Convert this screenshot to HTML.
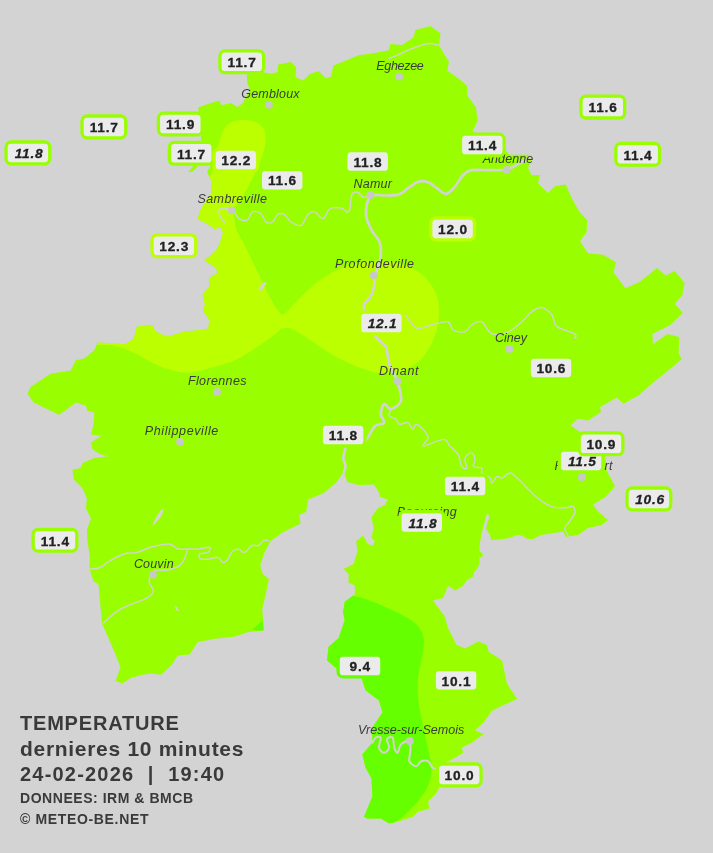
<!DOCTYPE html><html><head><meta charset="utf-8"><title>Temperature</title><style>
html,body{margin:0;padding:0}
body{width:713px;height:853px;background:#d3d3d3;position:relative;overflow:hidden;font-family:"Liberation Sans",sans-serif}
.c{position:absolute;font-style:italic;font-size:12.5px;color:#3c3c3c;white-space:nowrap;line-height:14px}
.l{position:absolute;box-sizing:border-box;width:46px;height:24px;border:3px solid #99ff00;border-radius:6px;background:#ebebeb;color:#222;font-weight:bold;font-size:14px;line-height:18px;text-align:center;transform:translate(-50%,-50%)}
.l.i{font-style:italic}
.t{position:absolute;left:20px;color:#3a3a3a;font-weight:bold;white-space:nowrap}
.t1{font-size:20px;letter-spacing:.8px;line-height:20px}
.t2{font-size:14px;letter-spacing:.54px;line-height:14px}

</style></head><body>
<svg width="713" height="853" viewBox="0 0 713 853" style="position:absolute;left:0;top:0">
<defs><clipPath id="prov"><polygon points="198.5,111 198.4,107.3 211,103 219.4,100.5 221.5,105.2 231,103 237.3,107.3 242.6,103 250,90.5 247.2,82 246.8,74.7 264.7,72.5 271,73.8 277.6,72 278.3,64.5 291,62 296.2,67.4 295.5,77 303,80.5 309.6,74 318.6,71 325.9,78.3 331.3,76.5 333.2,65.5 342.3,61.9 358.5,55.3 372,53.6 388.8,50.2 390.4,44 402,45 412,38.4 413.7,36.8 415.4,30.1 430.5,26 440.6,33.5 439,45.3 444,53.7 449,62 447.3,70.5 459,79 467,85.7 467.5,95.8 476,107.5 477.6,121 472.6,131 482,141 498,148 504.6,149.6 509.6,154.7 528,154.7 533,156.4 528,168 531.5,175 540,175 538,183.3 546.7,191.7 547.2,193.4 555.3,186 565.7,184.5 571.7,198 579.2,211.4 587.2,220.3 586.6,232.3 580,241.2 588,253.2 603,254.7 616,262.2 613.5,272.6 625.5,288.2 640.4,281.6 656.9,268.1 665.8,275.6 674.8,271.1 684.6,283.1 682.3,295 674.8,304 682.8,313 670.3,324.9 652.4,333.9 653,344.3 667.3,333.9 679.2,336.9 678.7,353.3 681.7,359.3 667.3,371.2 652,383.5 638.7,395.3 623.5,403.7 616.8,397.6 600,407 601,412 588,420.5 578,418.8 570.6,425.6 583,434 600,445 605,454 606.7,471 615,486 606.7,496 593,504.7 598,511.4 608,520 601.6,525 588,528 578,535 566,536.7 563,531.6 541,535 532.5,539.3 527.4,538.7 522.2,535.8 517,535.1 509.3,538 501.6,539.3 491.3,540 490,535.1 486.1,528.7 486.7,524.8 489.3,517.7 488,513.2 486.7,514.5 484.2,523.5 481.6,533.8 479.7,544.2 479.4,550.6 482.9,554.5 482.2,557 479.4,557.7 479.7,563.5 477.1,568.7 473.9,572.5 473.2,576.4 466.8,580.3 462.9,586.1 455.2,590.6 450,586.7 448,586 443,598 433,600.5 444.8,616.4 448,628 456.6,645 465,648.4 478.5,641.6 487,645 488.6,651.7 502,660.2 507,683.8 517.2,699 502,705.7 492,710.7 483.5,722.5 475,730.2 483.5,734.3 471.7,742.7 461.6,747.7 463.3,752.8 455,757.8 444.8,763 442,775 439.7,786.5 436.4,793.2 428,801.6 429.6,808.4 417.8,811.7 412.8,816.8 397.6,821.8 389.2,823.5 380.8,818.5 367.3,818.5 364,816.8 372.4,796.6 371.4,778 365.7,768 362.3,754.5 372.4,742.7 372.4,727.5 382.5,712.4 379,700.6 365.7,690.5 360.6,675.4 340.4,672 327,660.2 328.6,646.7 338.7,638 344.8,620 343,611.9 344.8,601.8 354.9,594.2 354.9,585.4 348.6,582.8 348.6,574 343.5,569 353.6,563.9 357.4,551.3 356.1,541.2 363.2,535.6 367.5,543.7 372.5,545.7 375.1,541.2 371.3,537.4 373.8,528.6 371.3,517.2 377.6,508.4 385.2,504.6 387.7,499.5 380.1,497 378.9,492 373.8,484.4 358.7,485.1 347.3,481.9 344,471.8 335.9,483.1 323.3,493.2 308.2,499.5 306.1,512.1 299.3,514.7 300.6,523.5 282.9,532.3 270.3,541.2 264,553.8 260.2,565.2 262.7,574 269,579 265.2,596.7 262.2,609.3 263.2,620 263.7,630.3 248.6,632 235,636.4 214.9,638.7 198,642 189.6,654.5 177.8,655.6 171,665.7 161,674.7 151,673.4 142.5,674.7 130.7,678 122.3,683.5 115.6,680.8 120.6,667.3 113.9,650.5 102,623.6 100,601 98.5,584.4 93.5,581 89.4,569 90,557.4 87.4,540.6 86.9,530 91,518.5 85.9,508.4 86.9,498.3 82.5,488.2 74,479.8 72.4,469.7 80.8,468 82.5,463 94.3,458 107.7,456.3 101,454.6 92.6,449.5 91,442.8 101,436 91,434.4 93.6,424.3 94.3,412.5 87.5,410.8 85.9,405.8 75.8,402.4 67.3,409 59,414.8 47,409 33.7,402.4 27.6,394 30.3,387.2 40.4,380.5 50.5,373.8 70.7,370.4 75.8,360.3 84.2,358.6 94.3,350.2 97.6,342.8 110,343 125.3,344.5 133.7,338.4 137,326.7 152.2,325 155.6,331.7 167.3,336.8 184.2,331.7 201,330 208.4,328.4 209.4,320 202.7,309.8 205,304.8 202.7,294.7 209.4,286.3 209.4,277.8 217.8,272.8 216,267.7 204.4,260.3 214.5,252.6 219.5,244.2 223,232.4 221,227.3 214.5,229 207.7,224 197.6,219 201,208.8 211,193.7 211,180.2 207,171.8 211,165 207,160 203,150 201,140 200,125 198,112"/><polygon points="188,172 195,164 198,166 192,172"/></clipPath></defs>
<g clip-path="url(#prov)"><rect width="713" height="853" fill="#99ff00"/>
<path d="M205.0,185.0 C206.3,182.6 211.4,174.9 213.1,170.4 C214.8,165.9 214.1,162.7 215.2,157.8 C216.2,152.9 217.8,145.9 219.4,141.0 C221.0,136.1 222.6,131.6 224.7,128.4 C226.8,125.2 229.0,123.4 232.0,122.0 C235.0,120.6 238.7,120.0 242.6,120.0 C246.5,120.0 251.7,120.6 255.2,122.0 C258.7,123.4 261.9,125.6 263.6,128.4 C265.4,131.2 265.7,135.1 265.7,138.9 C265.7,142.8 265.0,146.6 263.6,151.5 C262.2,156.4 259.8,162.7 257.3,168.3 C254.9,173.9 251.7,179.9 248.9,185.2 C246.1,190.5 243.3,195.9 240.5,200.0 C237.7,204.1 233.7,208.3 232.3,210.0 L236.5,230.0 C238.2,233.2 242.8,241.7 246.5,249.0 C250.2,256.3 254.0,264.8 258.4,273.8 C262.8,282.8 269.1,296.1 273.0,303.0 C276.9,309.9 280.5,313.0 282.0,315.0 L286.0,312.5 C289.3,309.1 299.5,297.9 305.8,292.0 C312.1,286.1 317.3,281.6 324.0,277.4 C330.7,273.1 338.0,269.2 345.9,266.5 C353.8,263.8 362.9,261.6 371.4,261.0 C379.9,260.4 389.1,261.0 397.0,262.8 C404.9,264.6 412.7,267.7 418.8,272.0 C424.9,276.3 430.0,282.6 433.4,288.4 C436.8,294.2 438.3,299.9 438.9,306.6 C439.5,313.3 438.5,321.8 437.0,328.5 C435.5,335.2 432.8,341.2 429.8,346.7 C426.8,352.2 423.1,357.4 418.8,361.3 C414.5,365.2 408.4,368.4 404.2,370.4 C399.9,372.3 398.2,372.7 393.3,373.0 C388.4,373.3 381.7,373.5 375.0,372.2 C368.3,370.9 360.5,368.0 353.2,365.0 C345.9,362.0 338.6,358.3 331.3,354.0 C324.0,349.7 315.5,343.3 309.4,339.4 C303.3,335.4 298.4,332.3 294.8,330.3 C291.2,328.3 289.1,328.0 288.0,327.5 L281.0,328.5 C279.7,329.7 277.4,332.5 273.0,335.8 C268.6,339.1 260.8,344.6 254.7,348.5 C248.6,352.4 243.2,356.4 236.5,359.5 C229.8,362.6 222.6,364.6 214.6,366.8 C206.6,369.0 196.2,372.3 188.4,372.7 C180.6,373.1 174.3,370.8 168.0,369.0 C161.7,367.2 155.5,364.4 150.5,362.0 C145.5,359.6 143.7,357.3 137.8,354.6 C132.0,351.9 121.7,347.4 115.4,345.8 C109.1,344.2 103.6,345.4 100.0,345.0 C96.4,344.6 95.0,343.7 94.0,343.4 L90,330 L120,305 L190,305 L190,200 Z" fill="#bbff00"/>
<path d="M330,596 L353.9,596 C358,597 362,598 367,599.5 C374,602 381,605 387.5,608 C395,611 401,614 407.7,618 C413,621 417,624 419.5,628 C422,632 424,636 424,641.6
 C424,648 422,655 421,661.8 C419.5,669 418,676 417.8,683.8 C417.5,692 418,700 419.5,707.3 C421,718 424,730 426.3,741 C428,749 430,757 431.3,764.6 C432,770 431.5,776 429.6,781.4 C427,789 423,795 417.8,801.6 C412,808 407,813 401,818.5 L392.6,823.5 L380,830 L350,830 L350,780 L360,700 L320,680 Z" fill="#66ff00"/>
<polygon points="252,630 263,620 264,631" fill="#66ff00"/>
</g>
<g fill="none" stroke="#d3d3d3" stroke-linejoin="round" stroke-linecap="round">
<path d="M532.0,156.7 C530.0,157.8 524.2,160.9 520.0,163.0 C515.8,165.1 511.5,168.3 506.8,169.5 C502.1,170.7 497.5,170.1 491.6,170.2 C485.7,170.3 476.2,169.3 471.4,170.2 C466.6,171.0 465.8,172.5 463.0,175.3 C460.2,178.1 457.4,183.9 454.6,187.0 C451.8,190.1 448.8,193.5 446.0,193.8 C443.2,194.1 440.8,190.7 437.7,188.7 C434.6,186.7 431.0,183.1 427.6,182.0 C424.2,180.9 420.9,180.9 417.5,182.0 C414.1,183.1 410.5,186.6 407.4,188.7 C404.3,190.8 402.4,193.3 399.0,194.4 C395.6,195.5 391.7,195.3 387.2,195.5 C382.7,195.7 375.4,194.1 372.0,195.5 C368.6,196.9 367.9,200.3 367.0,203.9 C366.1,207.5 365.6,212.8 366.4,217.3 C367.2,221.8 369.8,226.6 372.0,230.8 C374.2,235.0 378.4,238.1 379.8,242.6 C381.2,247.1 381.2,252.4 380.5,257.7 C379.8,263.0 376.6,269.6 375.5,274.6 C374.4,279.7 374.8,284.1 373.8,288.0 C372.8,291.9 371.4,295.2 369.7,298.0 C368.0,300.8 364.1,302.1 363.7,304.9 C363.2,307.7 365.6,311.1 367.0,315.0 C368.4,318.9 370.3,324.1 372.0,328.0 C373.7,331.9 374.7,335.5 377.0,338.6 C379.3,341.7 383.9,342.6 385.9,346.8 C387.9,351.0 387.2,357.8 389.2,363.7 C391.1,369.6 395.6,376.0 397.6,382.2 C399.6,388.4 402.1,396.2 401.0,400.7 C399.9,405.2 393.8,408.4 391.0,409.0 C388.2,409.6 385.9,403.1 384.2,404.0 C382.5,404.9 380.8,411.1 380.8,414.2 C380.8,417.3 385.2,420.6 384.2,422.6 C383.2,424.6 377.5,423.9 375.0,426.0 C372.5,428.1 371.2,432.3 369.4,435.0 C367.6,437.7 366.4,440.6 364.0,442.0 C361.6,443.4 357.8,443.0 355.0,443.5 C352.2,444.0 348.7,443.9 347.0,445.0 C345.3,446.1 345.6,447.8 345.0,450.0 C344.4,452.2 343.2,455.6 343.3,458.3 C343.4,461.0 345.5,463.8 345.6,466.0 C345.7,468.2 344.3,470.8 344.0,471.8" stroke-width="2.7"/>
<path d="M372.4,742.7 C373.0,741.9 374.4,738.5 375.8,737.6 C377.2,736.8 380.3,735.9 380.8,737.6 C381.3,739.3 378.4,745.2 379.0,747.7 C379.6,750.2 382.5,752.8 384.2,752.8 C385.9,752.8 388.8,750.0 389.2,747.7 C389.6,745.5 386.3,741.0 386.9,739.3 C387.5,737.6 391.4,736.2 392.6,737.6 C393.8,739.0 393.5,745.2 394.3,747.7 C395.1,750.2 396.5,753.3 397.6,752.8 C398.7,752.2 399.0,746.4 401.0,744.4 C403.0,742.4 407.8,739.9 409.4,741.0 C411.0,742.1 410.4,747.6 410.4,751.0 C410.4,754.4 408.4,758.7 409.4,761.2 C410.4,763.8 414.2,766.3 416.2,766.3 C418.2,766.3 419.2,762.1 421.2,761.2 C423.2,760.4 426.0,760.1 428.0,761.2 C430.0,762.3 431.1,766.6 433.0,768.0 C434.9,769.4 438.6,769.3 439.7,769.6" stroke-width="2"/>
<path d="M225.5,223.6 C224.5,222.2 220.5,217.5 219.7,215.0 C218.8,212.5 218.3,209.3 220.4,208.5 C222.5,207.7 228.9,208.3 232.0,210.0 C235.1,211.7 236.4,216.9 239.0,218.6 C241.6,220.3 245.1,221.3 247.3,220.2 C249.5,219.1 250.2,212.9 252.4,211.8 C254.7,210.7 258.6,211.8 260.8,213.5 C263.1,215.2 263.9,220.6 265.9,222.0 C267.9,223.4 270.7,223.2 272.6,222.0 C274.6,220.8 275.6,215.8 277.6,214.5 C279.6,213.2 282.2,213.2 284.4,214.5 C286.6,215.8 288.2,220.2 291.0,222.0 C293.8,223.8 298.4,226.6 301.2,225.3 C304.0,224.1 305.8,216.8 308.0,214.5 C310.2,212.2 312.2,211.1 314.7,211.8 C317.2,212.5 320.5,219.1 323.0,218.6 C325.5,218.1 326.9,210.8 329.8,209.0 C332.8,207.2 337.8,207.5 340.7,208.0 C343.6,208.5 345.8,211.8 347.3,212.0 C348.9,212.2 349.4,211.0 350.0,209.0 C350.6,207.0 350.4,202.6 350.8,200.0 C351.2,197.4 351.4,194.6 352.6,193.3 C353.8,192.1 356.2,191.8 358.0,192.5 C359.8,193.2 361.3,196.8 363.3,197.3 C365.3,197.8 368.9,195.8 370.0,195.5" stroke-width="1.4"/>
<path d="M391.0,409.0 C390.7,410.1 388.4,414.2 389.2,415.9 C390.0,417.6 394.3,417.8 396.0,419.2 C397.7,420.6 397.4,423.7 399.3,424.3 C401.2,424.9 405.4,421.8 407.7,422.6 C409.9,423.4 411.4,429.0 412.8,429.3 C414.2,429.6 414.3,424.3 416.0,424.3 C417.7,424.3 420.9,427.1 422.9,429.3 C424.9,431.5 428.0,434.9 428.0,437.7 C428.0,440.5 422.1,445.1 422.9,446.0 C423.7,446.9 429.4,443.9 433.0,442.8 C436.6,441.7 442.0,438.9 444.8,439.4 C447.6,439.9 447.6,443.5 449.8,446.0 C452.0,448.5 456.2,451.2 458.2,454.6 C460.2,458.0 460.2,464.2 461.6,466.4 C463.0,468.6 466.1,469.4 466.7,468.0 C467.3,466.6 464.2,460.5 465.0,458.0 C465.8,455.5 470.0,452.6 471.7,452.9 C473.4,453.2 474.7,457.4 475.0,459.6 C475.3,461.9 472.3,465.0 473.4,466.4 C474.5,467.8 480.4,466.9 481.8,468.0 C483.2,469.1 480.4,471.3 481.8,473.0 C483.2,474.7 488.5,476.3 490.2,478.0 C491.9,479.7 490.9,483.2 492.0,483.0 C493.1,482.8 495.3,477.3 497.0,476.5 C498.7,475.7 499.8,478.6 502.0,478.0 C504.2,477.4 507.6,472.7 510.4,473.0 C513.2,473.3 515.8,477.0 518.9,479.8 C522.0,482.6 525.9,487.0 529.0,490.0 C532.1,493.0 533.9,495.3 537.6,498.0 C541.3,500.7 546.5,504.7 551.0,506.4 C555.5,508.1 560.9,508.0 564.6,508.0 C568.3,508.0 571.3,505.6 573.0,506.4 C574.7,507.2 575.3,510.5 574.7,513.0 C574.1,515.5 571.3,519.0 569.6,521.5 C567.9,524.0 564.9,526.0 564.6,528.3 C564.3,530.5 567.4,533.9 568.0,535.0" stroke-width="1.4"/>
<path d="M367.0,315.0 C372.9,315.0 395.4,314.2 402.4,315.0 C409.4,315.8 406.5,317.8 409.0,320.0 C411.5,322.2 413.8,327.7 417.5,328.5 C421.2,329.3 425.9,326.1 431.0,325.0 C436.1,323.9 444.1,320.9 447.8,321.7 C451.5,322.5 450.2,328.3 453.0,330.0 C455.8,331.7 461.6,332.6 464.7,331.8 C467.8,331.0 468.6,326.7 471.4,325.0 C474.2,323.3 478.1,320.3 481.5,321.7 C484.9,323.1 487.1,331.8 491.6,333.5 C496.1,335.2 503.3,333.8 508.4,331.8 C513.5,329.8 518.1,325.1 522.0,321.7 C525.9,318.3 528.7,314.0 532.0,311.6 C535.3,309.2 538.7,307.0 542.0,307.6 C545.3,308.2 549.5,311.9 552.0,315.0 C554.5,318.1 553.0,323.2 556.8,326.4 C560.6,329.5 571.7,331.9 574.7,333.9 C577.7,335.9 574.7,337.6 574.7,338.4" stroke-width="1.4"/>
<path d="M89.4,569.0 C91.2,568.8 96.6,568.9 100.0,567.5 C103.4,566.1 106.0,563.0 110.0,560.8 C114.0,558.5 119.3,555.4 123.8,554.0 C128.3,552.6 132.5,553.5 137.0,552.4 C141.5,551.3 145.4,548.7 150.7,547.3 C156.0,545.9 164.5,543.7 169.0,544.0 C173.5,544.3 174.5,548.2 177.6,549.0 C180.7,549.8 184.3,549.0 187.7,549.0 C191.1,549.0 194.3,549.3 198.0,549.0 C201.7,548.7 207.9,546.7 209.6,547.3 C211.3,547.9 209.7,551.3 208.0,552.4 C206.3,553.5 200.7,552.9 199.5,554.0 C198.3,555.1 199.3,558.2 201.0,559.0 C202.7,559.8 206.8,559.3 209.6,559.0 C212.4,558.7 215.8,556.8 218.0,557.4 C220.2,558.0 221.3,562.2 223.0,562.5 C224.7,562.8 226.6,560.7 228.0,559.0 C229.4,557.3 229.8,554.1 231.5,552.4 C233.2,550.7 235.8,549.0 238.0,549.0 C240.2,549.0 242.7,553.0 245.0,552.4 C247.3,551.8 249.5,546.7 251.7,545.6 C253.9,544.5 256.4,546.4 258.4,545.6 C260.4,544.8 261.8,541.4 263.5,540.6 C265.2,539.8 267.7,540.6 268.5,540.6" stroke-width="1.4"/>
<path d="M187.7,549.0 C187.1,550.7 185.8,556.2 184.4,559.0 C183.0,561.8 182.1,564.1 179.3,565.9 C176.5,567.7 171.7,569.1 167.5,570.0 C163.3,570.9 157.1,569.2 154.0,571.0 C150.9,572.8 149.1,577.7 149.0,581.0 C148.9,584.3 153.7,588.2 153.4,591.0 C153.1,593.8 151.1,595.5 147.3,597.8 C143.5,600.1 135.6,602.4 130.5,604.6 C125.5,606.9 121.5,608.2 117.0,611.3 C112.5,614.4 105.8,621.0 103.6,623.0" stroke-width="1.4"/>
<path d="M389.0,58.5 C390.6,57.9 394.7,56.4 398.8,54.6 C402.9,52.9 408.5,49.8 413.4,48.0 C418.3,46.2 423.7,44.1 428.0,43.6 C432.3,43.1 437.2,45.0 439.0,45.3" stroke-width="1.4"/>
</g>
<polygon points="152.4,525.5 155,519 161,510 164,508.6 162,515 156,523" fill="#d3d3d3"/>
<polygon points="174.3,605 177,607 179.3,612 176,610" fill="#d3d3d3"/>
<polygon points="258.4,289 264,282 266.8,283 261,291" fill="#d3d3d3"/>
<circle cx="268.9" cy="104.8" r="3.9" fill="#c8c8c8"/>
<circle cx="399.2" cy="76.6" r="3.9" fill="#c8c8c8"/>
<circle cx="506.7" cy="169.8" r="3.9" fill="#c8c8c8"/>
<circle cx="370.5" cy="195.1" r="3.9" fill="#c8c8c8"/>
<circle cx="231.8" cy="210.3" r="3.9" fill="#c8c8c8"/>
<circle cx="373.8" cy="275.3" r="3.9" fill="#c8c8c8"/>
<circle cx="509.5" cy="348.9" r="3.9" fill="#c8c8c8"/>
<circle cx="217.1" cy="391.9" r="3.9" fill="#c8c8c8"/>
<circle cx="397.6" cy="381.3" r="3.9" fill="#c8c8c8"/>
<circle cx="180" cy="441.8" r="3.9" fill="#c8c8c8"/>
<circle cx="582" cy="477.1" r="3.9" fill="#c8c8c8"/>
<circle cx="152.9" cy="574.7" r="3.9" fill="#c8c8c8"/>
<circle cx="409.8" cy="740.9" r="3.9" fill="#c8c8c8"/>
</svg>
<div style="position:absolute;left:0;top:0;width:713px;height:853px;will-change:transform">
<div class="c" style="left:241.3px;top:86.7px;letter-spacing:0.18px">Gembloux</div>
<div class="c" style="left:376.3px;top:59.2px;letter-spacing:-0.31px">Eghezee</div>
<div class="c" style="left:482.7px;top:152.2px;letter-spacing:0.07px">Andenne</div>
<div class="c" style="left:353.4px;top:176.7px;letter-spacing:0.27px">Namur</div>
<div class="c" style="left:197.5px;top:192.1px;letter-spacing:0.41px">Sambreville</div>
<div class="c" style="left:335.0px;top:257.2px;letter-spacing:0.56px">Profondeville</div>
<div class="c" style="left:495.0px;top:330.7px;letter-spacing:0.01px">Ciney</div>
<div class="c" style="left:187.9px;top:374.3px;letter-spacing:0.38px">Florennes</div>
<div class="c" style="left:379.0px;top:364.2px;letter-spacing:0.67px">Dinant</div>
<div class="c" style="left:144.8px;top:424.1px;letter-spacing:0.62px">Philippeville</div>
<div class="c" style="left:554.5px;top:459.0px;letter-spacing:0.48px">Rochefort</div>
<div class="c" style="left:397.0px;top:505.1px;letter-spacing:0.33px">Beauraing</div>
<div class="c" style="left:133.9px;top:556.9px;letter-spacing:0.16px">Couvin</div>
<div class="c" style="left:357.9px;top:723.0px;letter-spacing:0.04px">Vresse-sur-Semois</div>
</div>
<svg width="713" height="853" viewBox="0 0 713 853" style="position:absolute;left:0;top:0;will-change:transform" font-family="Liberation Sans, sans-serif" font-weight="bold" font-size="13.7" text-anchor="middle" letter-spacing="0.8" stroke="#222" stroke-width="0.3">
<rect x="219.95" y="50.90" width="43.7" height="21.8" rx="5" fill="#ebebeb" stroke="#99ff00" stroke-width="3.3"/>
<text x="242.1" y="67.0" fill="#222">11.7</text>
<rect x="580.95" y="96.20" width="43.7" height="21.8" rx="5" fill="#ebebeb" stroke="#99ff00" stroke-width="3.3"/>
<text x="603.1" y="112.3" fill="#222">11.6</text>
<rect x="82.05" y="116.00" width="43.7" height="21.8" rx="5" fill="#ebebeb" stroke="#99ff00" stroke-width="3.3"/>
<text x="104.2" y="132.2" fill="#222">11.7</text>
<rect x="158.45" y="113.10" width="43.7" height="21.8" rx="5" fill="#ebebeb" stroke="#99ff00" stroke-width="3.3"/>
<text x="180.6" y="129.2" fill="#222">11.9</text>
<rect x="6.05" y="142.00" width="43.7" height="21.8" rx="5" fill="#ebebeb" stroke="#99ff00" stroke-width="3.3"/>
<text x="29.1" y="158.2" fill="#222" font-style="italic">11.8</text>
<rect x="169.35" y="142.40" width="43.7" height="21.8" rx="5" fill="#ebebeb" stroke="#99ff00" stroke-width="3.3"/>
<text x="191.5" y="158.6" fill="#222">11.7</text>
<rect x="214.05" y="149.10" width="43.7" height="21.8" rx="5" fill="#ebebeb" stroke="#bbff00" stroke-width="3.3"/>
<text x="236.2" y="165.2" fill="#222">12.2</text>
<rect x="460.45" y="134.10" width="43.7" height="21.8" rx="5" fill="#ebebeb" stroke="#99ff00" stroke-width="3.3"/>
<text x="482.6" y="150.2" fill="#222">11.4</text>
<rect x="615.85" y="143.40" width="43.7" height="21.8" rx="5" fill="#ebebeb" stroke="#99ff00" stroke-width="3.3"/>
<text x="638.0" y="159.6" fill="#222">11.4</text>
<rect x="345.85" y="150.70" width="43.7" height="21.8" rx="5" fill="#ebebeb" stroke="#99ff00" stroke-width="3.3"/>
<text x="368.0" y="166.8" fill="#222">11.8</text>
<rect x="260.35" y="169.30" width="43.7" height="21.8" rx="5" fill="#ebebeb" stroke="#99ff00" stroke-width="3.3"/>
<text x="282.5" y="185.4" fill="#222">11.6</text>
<rect x="430.75" y="218.00" width="43.7" height="21.8" rx="5" fill="#ebebeb" stroke="#bbff00" stroke-width="3.3"/>
<text x="452.9" y="234.2" fill="#222">12.0</text>
<rect x="152.05" y="234.90" width="43.7" height="21.8" rx="5" fill="#ebebeb" stroke="#bbff00" stroke-width="3.3"/>
<text x="174.2" y="251.1" fill="#222">12.3</text>
<rect x="359.55" y="312.10" width="43.7" height="21.8" rx="5" fill="#ebebeb" stroke="#bbff00" stroke-width="3.3"/>
<text x="382.6" y="328.2" fill="#222" font-style="italic">12.1</text>
<rect x="529.15" y="357.00" width="43.7" height="21.8" rx="5" fill="#ebebeb" stroke="#99ff00" stroke-width="3.3"/>
<text x="551.3" y="373.1" fill="#222">10.6</text>
<rect x="321.25" y="424.20" width="43.7" height="21.8" rx="5" fill="#ebebeb" stroke="#99ff00" stroke-width="3.3"/>
<text x="343.4" y="440.4" fill="#222">11.8</text>
<rect x="559.25" y="450.00" width="43.7" height="21.8" rx="5" fill="#ebebeb" stroke="#99ff00" stroke-width="3.3"/>
<text x="582.3" y="466.1" fill="#222" font-style="italic">11.5</text>
<rect x="579.15" y="432.90" width="43.7" height="21.8" rx="5" fill="#ebebeb" stroke="#99ff00" stroke-width="3.3"/>
<text x="601.3" y="449.1" fill="#222">10.9</text>
<rect x="443.25" y="475.10" width="43.7" height="21.8" rx="5" fill="#ebebeb" stroke="#99ff00" stroke-width="3.3"/>
<text x="465.4" y="491.2" fill="#222">11.4</text>
<rect x="627.05" y="488.00" width="43.7" height="21.8" rx="5" fill="#ebebeb" stroke="#99ff00" stroke-width="3.3"/>
<text x="650.1" y="504.1" fill="#222" font-style="italic">10.6</text>
<rect x="399.95" y="511.50" width="43.7" height="21.8" rx="5" fill="#ebebeb" stroke="#99ff00" stroke-width="3.3"/>
<text x="423.0" y="527.6" fill="#222" font-style="italic">11.8</text>
<rect x="33.15" y="529.30" width="43.7" height="21.8" rx="5" fill="#ebebeb" stroke="#99ff00" stroke-width="3.3"/>
<text x="55.3" y="545.5" fill="#222">11.4</text>
<rect x="338.15" y="655.10" width="43.7" height="21.8" rx="5" fill="#ebebeb" stroke="#66ff00" stroke-width="3.3"/>
<text x="360.3" y="671.2" fill="#222">9.4</text>
<rect x="434.25" y="669.30" width="43.7" height="21.8" rx="5" fill="#ebebeb" stroke="#99ff00" stroke-width="3.3"/>
<text x="456.4" y="685.5" fill="#222">10.1</text>
<rect x="437.35" y="764.00" width="43.7" height="21.8" rx="5" fill="#ebebeb" stroke="#99ff00" stroke-width="3.3"/>
<text x="459.5" y="780.1" fill="#222">10.0</text>
</svg>
<div style="position:absolute;left:0;top:0;width:713px;height:853px;will-change:transform">
<div class="t t1" style="top:713px">TEMPERATURE</div>
<div class="t t1" style="top:738.2px;font-size:21px;line-height:21px;letter-spacing:.7px">dernieres 10 minutes</div>
<div class="t t1" style="top:763.8px;letter-spacing:1.2px">24-02-2026 &nbsp;|&nbsp; 19:40</div>
<div class="t t2" style="top:791.3px">DONNEES: IRM &amp; BMCB</div>
<div class="t t2" style="top:811.5px;letter-spacing:.65px">&copy; METEO-BE.NET</div>
</div>
</body></html>
